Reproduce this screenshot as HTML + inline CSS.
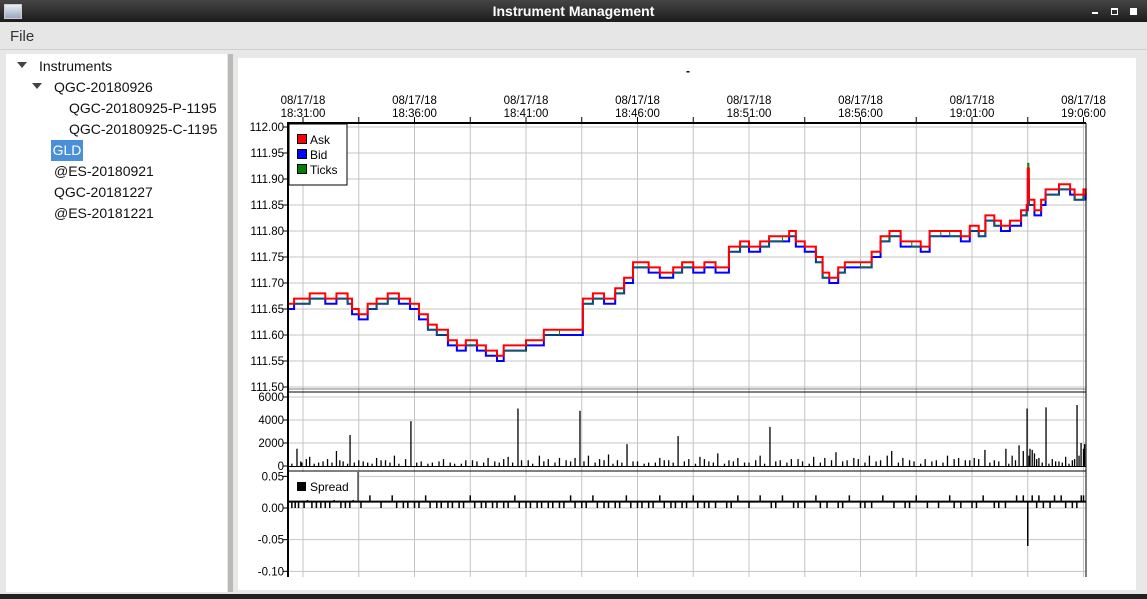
<!DOCTYPE html>
<html><head><meta charset="utf-8"><style>
body{margin:0;width:1147px;height:599px;overflow:hidden;background:#e8e8e8;font-family:"Liberation Sans","DejaVu Sans",sans-serif;position:relative}
.abs{position:absolute}
.tree{font-size:14px;color:#111}
.tree div{position:absolute;white-space:nowrap}
</style></head><body>
<div class="abs" style="left:0;top:0;width:1147px;height:22px;background:linear-gradient(#454545,#1c1c1c)">
 <div class="abs" style="left:4px;top:4px;width:16px;height:13px;background:linear-gradient(#e8eef8,#9aa8c0);border:1px solid #ccc"></div>
 <div class="abs" style="left:0;width:1147px;top:3px;text-align:center;color:#fff;font-weight:bold;font-size:14px">Instrument Management</div>
 <div class="abs" style="left:1092px;top:12px;width:6px;height:2px;background:#fff"></div>
 <div class="abs" style="left:1111px;top:8px;width:5px;height:4px;border:1px solid #fff;border-top-width:2px"></div>
 <div class="abs" style="left:1130px;top:8px;width:7px;height:7px;background:#fff"></div>
</div>
<div class="abs" style="left:0;top:22px;width:1147px;height:27px;background:#e6e6e6;border-bottom:1px solid #cfcfcf">
 <div class="abs" style="left:10px;top:6px;font-size:15px;color:#333">File</div>
</div>
<div class="abs tree" style="left:6px;top:54px;width:221px;height:538px;background:#fff">
 <div style="left:11px;top:8px;width:0;height:0;border-left:5px solid transparent;border-right:5px solid transparent;border-top:6px solid #444"></div>
 <div style="left:33px;top:4px">Instruments</div>
 <div style="left:26px;top:29px;width:0;height:0;border-left:5px solid transparent;border-right:5px solid transparent;border-top:6px solid #444"></div>
 <div style="left:48px;top:25px">QGC-20180926</div>
 <div style="left:63px;top:46px">QGC-20180925-P-1195</div>
 <div style="left:63px;top:67px">QGC-20180925-C-1195</div>
 <div style="left:45px;top:86px;width:32px;height:21px;background:#4a90d9;color:#fff;line-height:21px;text-align:center">GLD</div>
 <div style="left:48px;top:109px">@ES-20180921</div>
 <div style="left:48px;top:130px">QGC-20181227</div>
 <div style="left:48px;top:151px">@ES-20181221</div>
</div>
<div class="abs" style="left:228px;top:54px;width:5px;height:538px;background:#b9b9b6"></div>
<div class="abs" style="left:238px;top:58px;width:898px;height:532px;background:#fff"></div>
<div class="abs" style="left:0;top:594px;width:1147px;height:5px;background:#222"></div>
<svg class="abs" style="left:0;top:0" width="1147" height="599" id="chart" font-family="Liberation Sans, sans-serif"></svg>
<script>
const tickTimes=[0,5,10,15,20,25,30,35];
const tickLabels=["18:31:00","18:36:00","18:41:00","18:46:00","18:51:00","18:56:00","19:01:00","19:06:00"];
const priceTicks=[112.00,111.95,111.90,111.85,111.80,111.75,111.70,111.65,111.60,111.55,111.50];
const volTicks=[6000,4000,2000,0];
const spreadTicks=[0.05,0.00,-0.05,-0.10];
const times=[-0.67,-0.4,0.3,1.0,1.5,2.0,2.2,2.5,2.9,3.3,3.8,4.3,4.8,5.2,5.6,6.0,6.5,6.9,7.3,7.8,8.2,8.7,9.0,10.0,10.8,11.5,12.55,13.0,13.5,14.0,14.4,14.8,15.5,16.0,16.6,17.0,17.5,18.0,18.5,19.1,19.6,20.0,20.5,20.9,21.5,21.8,22.1,22.5,23.0,23.3,23.6,24.0,24.3,25.0,25.5,25.9,26.3,26.8,27.3,27.7,28.1,28.6,29.0,29.5,29.9,30.3,30.6,31.0,31.3,31.7,32.2,32.45,32.5,32.55,32.8,33.1,33.3,33.9,34.4,34.6,35.0,35.1];
const askValues=[111.66,111.67,111.68,111.67,111.68,111.67,111.65,111.64,111.66,111.67,111.68,111.67,111.66,111.64,111.62,111.61,111.59,111.58,111.59,111.58,111.57,111.56,111.58,111.59,111.61,111.61,111.67,111.68,111.67,111.69,111.71,111.74,111.73,111.72,111.73,111.74,111.73,111.74,111.73,111.77,111.78,111.77,111.78,111.79,111.79,111.80,111.78,111.77,111.75,111.72,111.71,111.73,111.74,111.74,111.76,111.79,111.80,111.78,111.78,111.77,111.80,111.80,111.80,111.79,111.81,111.80,111.83,111.82,111.81,111.82,111.84,111.85,111.92,111.86,111.84,111.86,111.88,111.89,111.88,111.87,111.88,111.87];
const bidValues=[111.65,111.66,111.67,111.66,111.67,111.66,111.64,111.63,111.65,111.66,111.67,111.66,111.65,111.63,111.61,111.60,111.58,111.57,111.58,111.57,111.56,111.55,111.57,111.58,111.60,111.60,111.66,111.67,111.66,111.68,111.70,111.73,111.72,111.71,111.72,111.73,111.72,111.73,111.72,111.76,111.77,111.76,111.77,111.78,111.78,111.79,111.77,111.76,111.74,111.71,111.70,111.72,111.73,111.73,111.75,111.78,111.79,111.77,111.77,111.76,111.79,111.79,111.79,111.78,111.80,111.79,111.82,111.81,111.80,111.81,111.83,111.84,111.90,111.85,111.83,111.85,111.87,111.88,111.87,111.86,111.87,111.86];
const tickValues=[111.66,111.66,111.67,111.67,111.67,111.66,111.65,111.64,111.65,111.66,111.67,111.67,111.66,111.64,111.61,111.60,111.59,111.58,111.58,111.58,111.57,111.56,111.57,111.59,111.60,111.61,111.66,111.67,111.67,111.68,111.71,111.73,111.73,111.72,111.72,111.73,111.73,111.74,111.73,111.76,111.77,111.77,111.77,111.78,111.79,111.79,111.78,111.77,111.74,111.71,111.71,111.72,111.74,111.73,111.76,111.78,111.79,111.78,111.77,111.77,111.79,111.80,111.79,111.79,111.80,111.79,111.82,111.81,111.81,111.82,111.83,111.85,111.93,111.85,111.84,111.86,111.87,111.88,111.88,111.86,111.87,111.87];
const volTimes=[-0.27,-0.1,0.3,0.7,1.1,1.5,1.8,2.11,2.5,2.9,3.3,3.7,4.1,4.84,5.3,5.8,6.3,6.8,7.3,7.8,8.3,8.8,9.2,9.64,10.1,10.6,11.0,11.5,12.0,12.42,12.8,13.3,13.7,14.1,14.53,15.0,15.5,16.0,16.4,16.82,17.3,17.8,18.2,18.6,19.1,19.5,20.0,20.5,20.94,21.4,21.9,22.4,22.9,23.4,23.9,24.4,24.9,25.4,25.9,26.4,26.9,27.4,27.9,28.4,28.9,29.4,29.9,30.3,30.58,31.0,31.52,31.8,32.11,32.47,32.6,32.8,33.0,33.32,33.6,33.9,34.2,34.5,34.71,34.89,35.05,
 -0.5,-0.05,0.15,0.5,0.9,1.3,1.65,2.0,2.3,2.7,3.1,3.5,3.9,4.3,4.6,5.1,5.6,6.1,6.6,7.1,7.6,8.1,8.6,9.0,9.4,9.8,10.3,10.8,11.3,11.8,12.2,12.6,13.1,13.5,13.9,14.3,14.8,15.3,15.8,16.2,16.6,17.1,17.6,18.0,18.4,18.9,19.3,19.8,20.3,20.7,21.2,21.7,22.2,22.7,23.2,23.7,24.2,24.7,25.2,25.7,26.2,26.7,27.2,27.7,28.2,28.7,29.2,29.7,30.1,30.8,31.2,31.65,31.95,32.3,32.55,32.7,32.9,33.15,33.45,33.75,34.05,34.35,34.6,34.8,35.0];
const volValues=[1500,400,800,300,600,1300,400,2700,500,300,700,500,900,3900,400,300,600,200,500,400,700,300,800,5000,500,900,600,700,400,4800,900,600,1000,500,1900,400,300,700,500,2600,600,800,400,1100,500,700,300,900,3400,500,600,400,800,700,1200,500,600,900,500,1300,700,400,600,500,900,700,500,600,1400,500,1500,900,1800,5000,1500,1100,700,5100,600,400,800,500,5300,2000,1900,
 200,300,600,200,400,300,500,200,300,400,200,500,300,200,600,300,200,400,300,200,500,300,400,600,300,500,200,400,300,500,700,400,300,500,200,300,400,200,300,500,300,400,200,600,300,200,400,300,500,200,400,300,600,200,300,500,400,700,300,400,900,300,500,200,400,300,600,500,700,300,400,200,500,1300,900,1400,600,300,200,400,300,200,600,900,1500];
const spreadTimes=[-0.5,-0.2,0.2,0.6,1.0,1.4,1.9,2.25,2.6,3.0,3.5,4.0,4.5,5.0,5.5,6.0,6.5,7.0,7.5,8.0,8.5,9.0,9.5,10.0,10.5,11.0,11.5,12.0,12.5,13.0,13.5,14.0,14.5,15.0,15.5,16.0,16.5,17.0,17.5,18.0,18.5,19.0,19.5,20.0,20.5,21.0,21.5,22.0,22.5,23.0,23.5,24.0,24.5,25.0,25.5,26.0,26.5,27.0,27.5,28.0,28.5,29.0,29.5,30.0,30.5,31.0,31.5,32.0,32.5,33.0,33.5,34.0,34.5,35.0,
 -0.35,0.05,0.4,0.8,1.2,1.7,2.1,4.2,4.7,5.2,5.7,6.2,6.7,7.2,7.7,8.2,8.7,9.2,9.7,10.2,10.7,11.2,11.7,12.2,12.7,13.2,13.7,14.2,14.7,15.2,15.7,16.2,16.7,17.2,17.7,18.2,19.2,21.2,22.2,23.2,24.2,25.2,27.2,29.2,30.2,31.2,32.3,32.7,32.9,33.2,33.7,34.2,34.7,34.9];
const spreadValues=[0.00,0.00,0.02,0.00,0.00,0.02,0.00,0.05,0.00,0.02,0.00,0.02,0.00,0.00,0.02,0.00,0.00,0.00,0.02,0.00,0.00,0.00,0.02,0.00,0.00,0.00,0.00,0.02,0.00,0.02,0.00,0.00,0.02,0.00,0.00,0.02,0.00,0.00,0.02,0.00,0.00,0.00,0.02,0.00,0.02,0.00,0.02,0.00,0.00,0.02,0.00,0.00,0.02,0.00,0.00,0.02,0.00,0.00,0.02,0.00,0.00,0.02,0.00,0.00,0.02,0.00,0.00,0.02,-0.06,0.02,0.00,0.02,0.00,0.02,
 0.00,0.00,0.00,0.00,0.00,0.00,0.00,0.00,0.00,0.00,0.00,0.00,0.00,0.00,0.00,0.00,0.00,0.00,0.00,0.00,0.00,0.00,0.00,0.00,0.00,0.00,0.00,0.00,0.00,0.00,0.00,0.00,0.00,0.00,0.00,0.00,0.00,0.00,0.00,0.00,0.00,0.00,0.00,0.00,0.00,0.00,0.02,0.02,0.00,0.00,0.02,0.00,0.00,0.02];

const svg=document.getElementById('chart');const NS='http://www.w3.org/2000/svg';
function mk(tag,attrs,parent){const e=document.createElementNS(NS,tag);for(const k in attrs)e.setAttribute(k,attrs[k]);(parent||svg).appendChild(e);return e;}
const L=288,R=1086;
const xS=m=>303+m*22.3;
const yP=v=>127+(112-v)*520;
const yV=v=>466-v*69/6000;
const yS=v=>508-v*633.3;
for(let m=0;m<=35;m+=2.5){const x=xS(m);
 const g=mk('line',{x1:x,x2:x,y1:123,y2:577,stroke:'#c4c4c4','stroke-width':1});
 
 mk('line',{x1:x,x2:x,y1:117,y2:123,stroke:'#000'});}
priceTicks.forEach(v=>{const y=yP(v);
 const g=mk('line',{x1:L,x2:R,y1:y,y2:y,stroke:'#c4c4c4'});
 mk('line',{x1:L-5,x2:L,y1:y,y2:y,stroke:'#000'});
 const t=mk('text',{x:L-4,y:y+4,'text-anchor':'end','font-size':11.5,fill:'#000'});t.textContent=v.toFixed(2);
 });
volTicks.forEach(v=>{const y=yV(v);
 if(v>0)mk('line',{x1:L,x2:R,y1:y,y2:y,stroke:'#c4c4c4'});
 mk('line',{x1:L-5,x2:L,y1:y,y2:y,stroke:'#000'});
 const t=mk('text',{x:L-4,y:y+4,'text-anchor':'end','font-size':11.5});t.textContent=v;
 });
spreadTicks.forEach(v=>{const y=yS(v);
 mk('line',{x1:L,x2:R,y1:y,y2:y,stroke:'#c4c4c4'});
 mk('line',{x1:L-5,x2:L,y1:y,y2:y,stroke:'#000'});
 const t=mk('text',{x:L-4,y:y+4,'text-anchor':'end','font-size':11.5});t.textContent=v.toFixed(2);
 });
tickTimes.forEach((m,i)=>{const x=xS(m);
 const t1=mk('text',{x:x,y:104,'text-anchor':'middle','font-size':11.5});t1.textContent='08/17/18';
 
 const t2=mk('text',{x:x,y:117,'text-anchor':'middle','font-size':11.5});t2.textContent=tickLabels[i];
 });
const ct=mk('text',{x:688,y:75,'text-anchor':'middle','font-size':12,'font-weight':'bold'});ct.textContent='-';

function step(vals,color,w,name){let d='';times.forEach((m,i)=>{const x=xS(m),y=yP(vals[i]);d+=(i?`H${x}V${y}`:`M${x} ${y}`);});d+=`H${R}`;
 const p=mk('path',{d:d,fill:'none',stroke:color,'stroke-width':w});}
step(bidValues,'#0000ff',2,'bid-line');
step(tickValues,'#008000',1,'ticks-line');
step(askValues,'#ff0000',2,'ask-line');
volTimes.forEach((m,i)=>{const x=xS(m);
 const b=mk('line',{x1:x,x2:x,y1:yV(0),y2:yV(volValues[i]),stroke:'#000','stroke-width':1.3});
 });
mk('line',{x1:L,x2:R,y1:yV(0)+0.5,y2:yV(0)+0.5,stroke:'#000'});
const base=mk('line',{x1:L,x2:R,y1:yS(0.01),y2:yS(0.01),stroke:'#000','stroke-width':2});

spreadTimes.forEach((m,i)=>{const x=xS(m);
 const b=mk('line',{x1:x,x2:x,y1:yS(0.01),y2:yS(spreadValues[i]),stroke:'#000','stroke-width':1.5});
 });
mk('line',{x1:L,x2:L,y1:122,y2:577,stroke:'#000','stroke-width':2});
mk('line',{x1:L,x2:R,y1:123,y2:123,stroke:'#000','stroke-width':2});
mk('line',{x1:R,x2:R,y1:123,y2:577,stroke:'#000','stroke-width':1});
mk('line',{x1:L,x2:R,y1:392,y2:392,stroke:'#000'});
mk('line',{x1:L,x2:R,y1:389,y2:389,stroke:'#000','stroke-width':0.6});
mk('line',{x1:L,x2:R,y1:471,y2:471,stroke:'#000'});
const lg=mk('g',{});
mk('rect',{x:289,y:124,width:58,height:61,fill:'#fff',stroke:'#000'},lg);
[['Ask','#ff0000'],['Bid','#0000ff'],['Ticks','#008000']].forEach((e,i)=>{
 mk('rect',{x:297.5,y:134.5+i*15,width:9,height:9,fill:e[1],stroke:'#000'},lg);
 const t=mk('text',{x:310,y:144+i*15,'font-size':12},lg);t.textContent=e[0];
 });
const sg=mk('g',{});
mk('rect',{x:289,y:472,width:69,height:28,fill:'#fff'},sg);
mk('line',{x1:358,x2:358,y1:472,y2:501,stroke:'#000'},sg);
mk('rect',{x:297,y:482,width:9,height:9,fill:'#000'},sg);
const st=mk('text',{x:310,y:491,'font-size':12},sg);st.textContent='Spread';

</script>
</body></html>
